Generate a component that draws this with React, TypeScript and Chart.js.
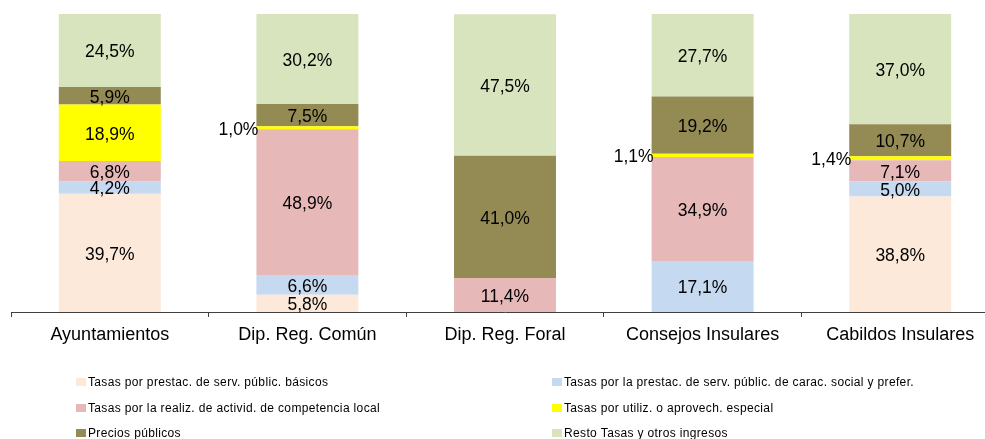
import React, { useEffect, useRef } from "react";
import { Chart, registerables } from "chart.js";

Chart.register(...registerables);

const categories = [
  "Ayuntamientos",
  "Dip. Reg. Común",
  "Dip. Reg. Foral",
  "Consejos Insulares",
  "Cabildos Insulares",
];

const seriesLabels = [
  "Tasas por prestac. de serv. públic. básicos",
  "Tasas por la prestac. de serv. públic. de carac. social y prefer.",
  "Tasas por la realiz. de activid. de competencia local",
  "Tasas por utiliz. o aprovech. especial",
  "Precios públicos",
  "Resto Tasas y otros ingresos",
];

const basicos = [39.7, 5.8, 0, 0, 38.8];
const social = [4.2, 6.6, 0, 17.1, 5.0];
const competencia = [6.8, 48.9, 11.4, 34.9, 7.1];
const utilizacion = [18.9, 1.0, 0, 1.1, 1.4];
const precios = [5.9, 7.5, 41.0, 19.2, 10.7];
const resto = [24.5, 30.2, 47.5, 27.7, 37.0];

const seriesValues = [basicos, social, competencia, utilizacion, precios, resto];
const seriesColors = ["#FDE9D9", "#C5D9F1", "#E6B9B8", "#FFFF00", "#948A54", "#D7E4BD"];

const FONT = "'Liberation Sans', Arial, Helvetica, sans-serif";

const fmt = (v: number) => v.toFixed(1).replace(".", ",") + "%";

const valueLabelsPlugin = {
  id: "valueLabels",
  afterDatasetsDraw(chart: any) {
    const ctx = chart.ctx;
    ctx.save();
    ctx.font = `17.5px ${FONT}`;
    ctx.fillStyle = "#000000";
    ctx.textBaseline = "middle";
    chart.data.datasets.forEach((ds: any, i: number) => {
      const meta = chart.getDatasetMeta(i);
      meta.data.forEach((el: any, j: number) => {
        const v = ds.data[j];
        if (!v || v <= 0) return;
        const props = el.getProps(["x", "y", "base", "width"], true);
        const cy = (props.y + props.base) / 2;
        if (v < 3) {
          ctx.textAlign = "right";
          ctx.fillText(fmt(v), props.x - props.width / 2 + 2, cy + 2);
        } else {
          ctx.textAlign = "center";
          ctx.fillText(fmt(v), props.x, cy + 2);
        }
      });
    });
    ctx.restore();
  },
};

const legendPlugin = {
  id: "twoColLegend",
  afterDraw(chart: any) {
    const ctx = chart.ctx;
    const colX = [76, 552];
    const rowY = [382, 408, 433];
    ctx.save();
    ctx.font = `12px ${FONT}`;
    try {
      ctx.letterSpacing = "0.35px";
    } catch (e) {}
    ctx.textBaseline = "middle";
    ctx.textAlign = "left";
    chart.data.datasets.forEach((ds: any, i: number) => {
      const x = colX[i % 2];
      const y = rowY[Math.floor(i / 2)];
      ctx.fillStyle = ds.backgroundColor;
      ctx.fillRect(x, y - 4, 10, 8);
      ctx.fillStyle = "#000000";
      ctx.fillText(ds.label, x + 12, y + 0.5);
    });
    ctx.restore();
  },
};

export default function App() {
  const ref = useRef<HTMLCanvasElement | null>(null);

  useEffect(() => {
    if (!ref.current) return;
    const chart = new Chart(ref.current, {
      type: "bar",
      data: {
        labels: categories,
        datasets: seriesLabels.map((label, i) => ({
          label,
          data: seriesValues[i],
          backgroundColor: seriesColors[i],
          borderWidth: 0,
          categoryPercentage: 0.516,
          barPercentage: 1,
        })),
      },
      options: {
        animation: false,
        responsive: false,
        maintainAspectRatio: false,
        devicePixelRatio: 1,
        layout: { padding: { top: 14, left: 11, right: 1, bottom: 0 } },
        plugins: {
          legend: { display: false },
          tooltip: { enabled: false },
        },
        scales: {
          x: {
            stacked: true,
            offset: true,
            afterFit: (s: any) => {
              s.height = 127;
            },
            grid: {
              display: true,
              offset: true,
              drawOnChartArea: false,
              drawTicks: true,
              tickLength: 5,
              color: "#404040",
              lineWidth: 1,
            },
            border: { display: true, color: "#404040", width: 1 },
            ticks: {
              color: "#000000",
              padding: 7,
              maxRotation: 0,
              autoSkip: false,
              font: { family: FONT, size: 18 },
            },
          },
          y: {
            stacked: true,
            display: false,
            min: 0,
            max: 100,
          },
        },
      },
      plugins: [valueLabelsPlugin, legendPlugin],
    });
    return () => chart.destroy();
  }, []);

  return (
    <div
      style={{
        position: "absolute",
        left: 0,
        top: 0,
        width: 985,
        height: 439,
        overflow: "hidden",
        background: "#ffffff",
      }}
    >
      <canvas ref={ref} width={1000} height={439} style={{ width: 1000, height: 439, display: "block" }} />
    </div>
  );
}
